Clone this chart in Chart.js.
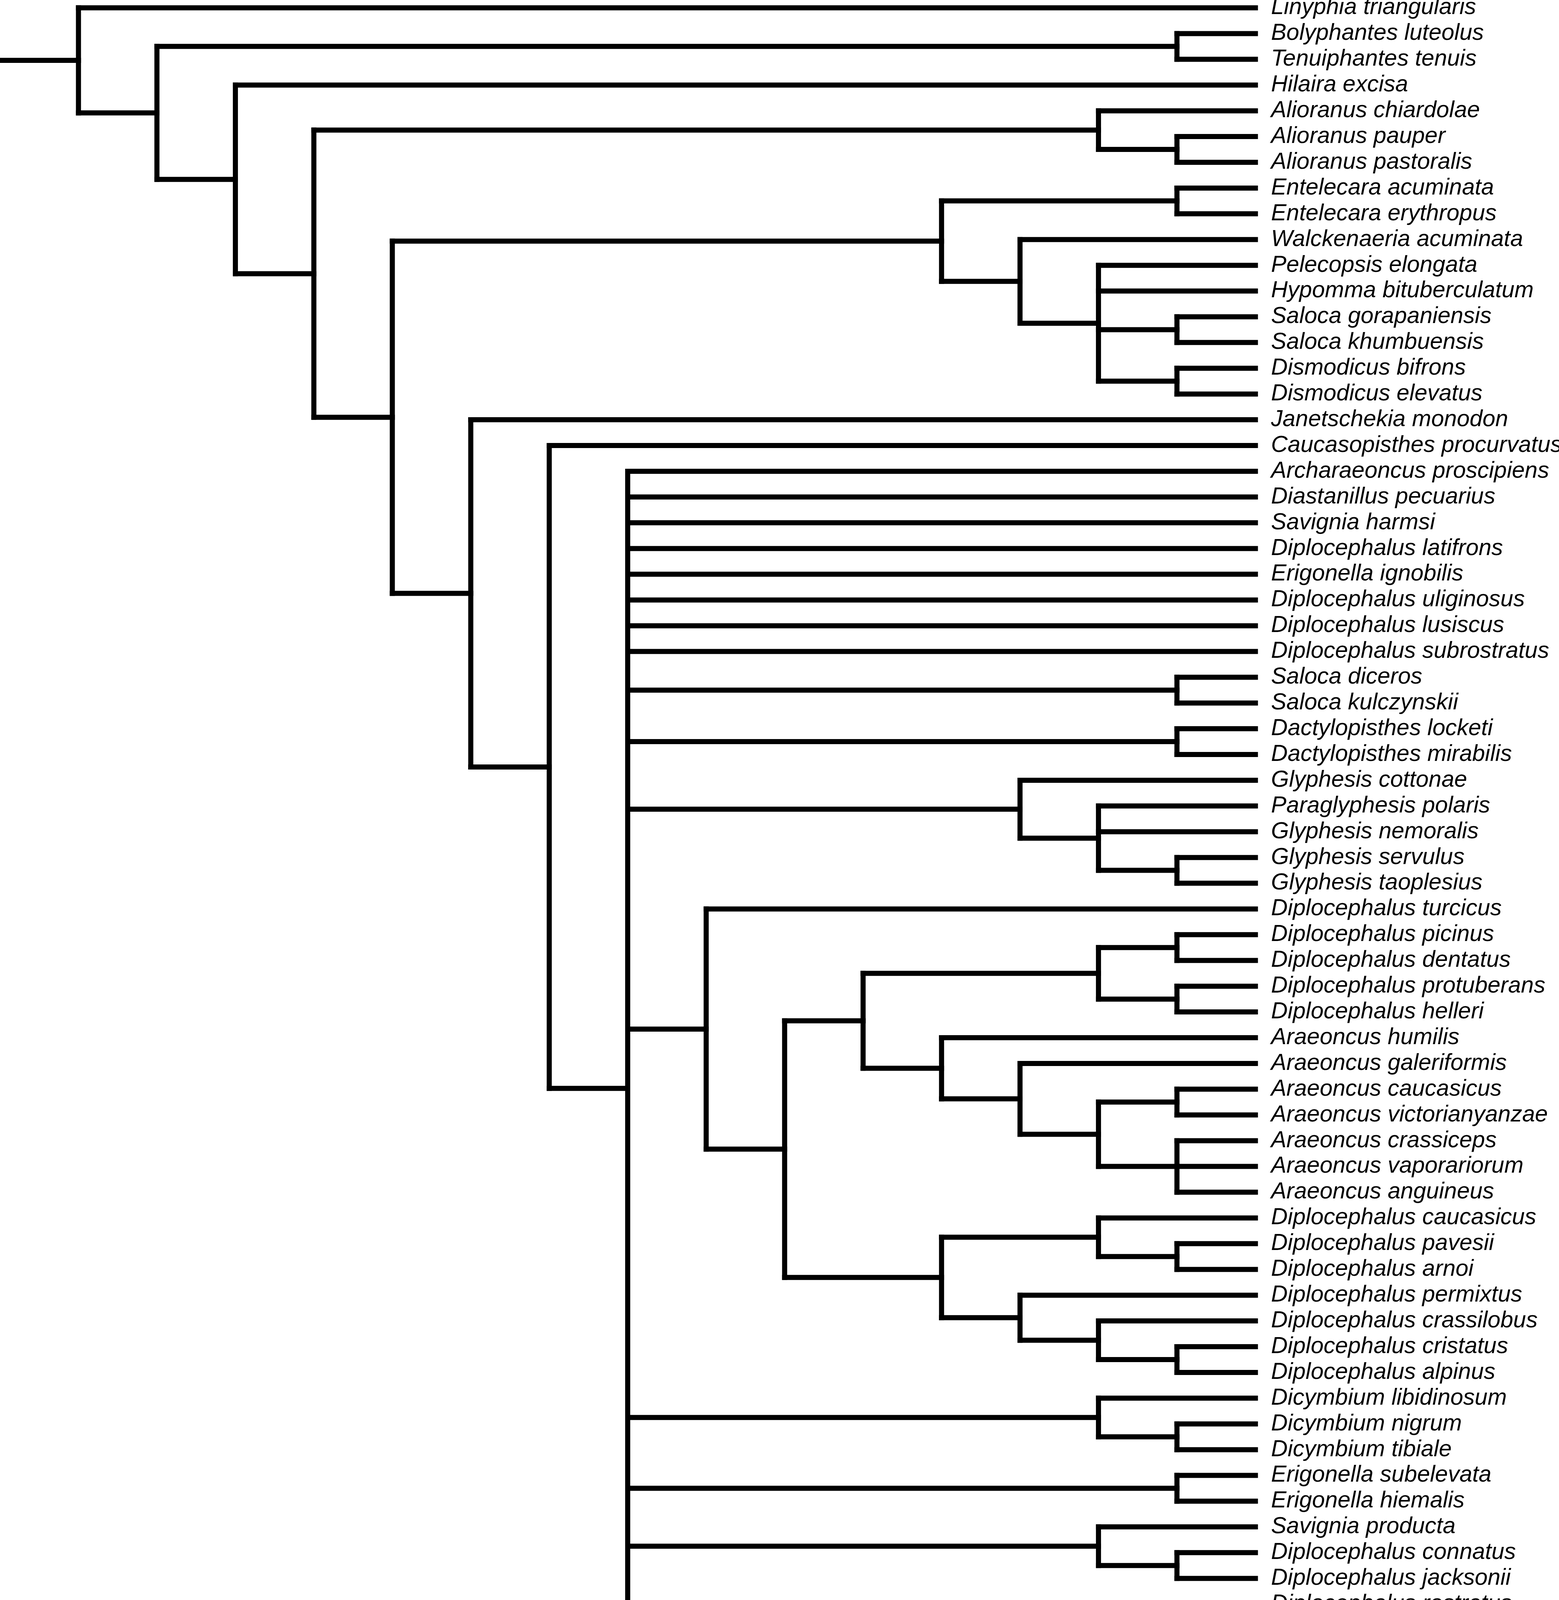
<!DOCTYPE html>
<html>
<head>
<meta charset="utf-8">
<script src="https://cdn.jsdelivr.net/npm/chart.js@4.4.1/dist/chart.umd.min.js"></script>
<style>
  html, body { margin: 0; padding: 0; background: #fff; }
  #wrap { width: 3990px; height: 4608px; }
</style>
</head>
<body>
<div id="wrap"><canvas id="tree"></canvas></div>
<script>
// clades, top to bottom
const alioranusClade = ["Alioranus chiardolae", ["Alioranus pauper", "Alioranus pastoralis"]];
const entelecaraClade = [
  ["Entelecara acuminata", "Entelecara erythropus"],
  ["Walckenaeria acuminata",
    ["Pelecopsis elongata", "Hypomma bituberculatum",
      ["Saloca gorapaniensis", "Saloca khumbuensis"],
      ["Dismodicus bifrons", "Dismodicus elevatus"]]]
];
const glyphesisClade = ["Glyphesis cottonae",
  ["Paraglyphesis polaris", "Glyphesis nemoralis", ["Glyphesis servulus", "Glyphesis taoplesius"]]];
const turcicusClade = ["Diplocephalus turcicus", [
  [
    [["Diplocephalus picinus", "Diplocephalus dentatus"], ["Diplocephalus protuberans", "Diplocephalus helleri"]],
    ["Araeoncus humilis", ["Araeoncus galeriformis",
      [["Araeoncus caucasicus", "Araeoncus victorianyanzae"],
       ["Araeoncus crassiceps", "Araeoncus vaporariorum", "Araeoncus anguineus"]]]]
  ],
  [
    ["Diplocephalus caucasicus", ["Diplocephalus pavesii", "Diplocephalus arnoi"]],
    ["Diplocephalus permixtus", ["Diplocephalus crassilobus", ["Diplocephalus cristatus", "Diplocephalus alpinus"]]]
  ]
]];
const polytomy = [
  "Archaraeoncus proscipiens", "Diastanillus pecuarius", "Savignia harmsi",
  "Diplocephalus latifrons", "Erigonella ignobilis", "Diplocephalus uliginosus",
  "Diplocephalus lusiscus", "Diplocephalus subrostratus",
  ["Saloca diceros", "Saloca kulczynskii"],
  ["Dactylopisthes locketi", "Dactylopisthes mirabilis"],
  glyphesisClade,
  turcicusClade,
  ["Dicymbium libidinosum", ["Dicymbium nigrum", "Dicymbium tibiale"]],
  ["Erigonella subelevata", "Erigonella hiemalis"],
  ["Savignia producta", ["Diplocephalus connatus", "Diplocephalus jacksonii"]],
  ["Diplocephalus rostratus", ["Diplocephalus montanus", "Diplocephalus marusiki"]],
  ["Diplocephalus mirabilis", ["Savignia frontata", ["Savignia saitoi", ["Savignia birostra", "Savignia zero"]]]]
];
const tree = ["Linyphia triangularis", [
  ["Bolyphantes luteolus", "Tenuiphantes tenuis"],
  ["Hilaira excisa", [
    alioranusClade,
    [entelecaraClade,
      ["Janetschekia monodon", ["Caucasopisthes procurvatus", polytomy]]]
  ]]
]];

// layout: leaves get consecutive rows, nodes sit at (maxHeight - height)
const taxa = [];
function height(n) {
  if (typeof n === "string") return 0;
  return 1 + Math.max(...n.map(height));
}
const depthMax = height(tree) + 1;
const segments = [];
function place(n) {
  if (typeof n === "string") {
    taxa.push(n);
    return { x: depthMax, y: taxa.length - 1 };
  }
  const x = depthMax - height(n);
  const kids = n.map(place);
  kids.forEach(k => segments.push([{ x: x, y: k.y }, { x: k.x, y: k.y }]));
  const y0 = kids[0].y, y1 = kids[kids.length - 1].y;
  segments.push([{ x: x, y: y0 }, { x: x, y: y1 }]);
  return { x: x, y: (y0 + y1) / 2 };
}
const root = place(tree);
segments.push([{ x: 0, y: root.y }, { x: root.x, y: root.y }]);

const datasets = segments.map(s => ({
  "data": s,
  "showLine": true,
  "borderColor": "#000",
  "borderWidth": 13,
  "borderCapStyle": "square",
  "pointRadius": 0,
  "pointHoverRadius": 0,
  "clip": false,
}));

new Chart(document.getElementById("tree"), {
  "type": "scatter",
  "data": { "datasets": datasets },
  "options": {
    "responsive": true,
    "maintainAspectRatio": false,
    "animation": false,
    "events": [],
    "layout": { "padding": { "top": 20, "bottom": 40, "left": 0, "right": 0 } },
    "plugins": { "legend": { "display": false }, "tooltip": { "enabled": false } },
    "scales": {
      "x": { "type": "linear", "min": 0, "max": depthMax, "display": false },
      "y": {
        "type": "linear",
        "position": "right",
        "reverse": true,
        "min": 0,
        "max": taxa.length - 1,
        "grid": { "display": false },
        "border": { "display": false },
        "afterBuildTicks": scale => { scale.ticks = taxa.map((_, i) => ({ value: i })); },
        "afterFit": scale => {
          scale.width = 777;
          scale.paddingTop = 0;
          scale.paddingBottom = 0;
        },
        "ticks": {
          "autoSkip": false,
          "padding": 32,
          "color": "#000",
          "font": { "family": "Liberation Sans", "style": "italic", "size": 59 },
          "callback": v => taxa[v],
        },
      },
    },
  },
});
</script>
</body>
</html>
